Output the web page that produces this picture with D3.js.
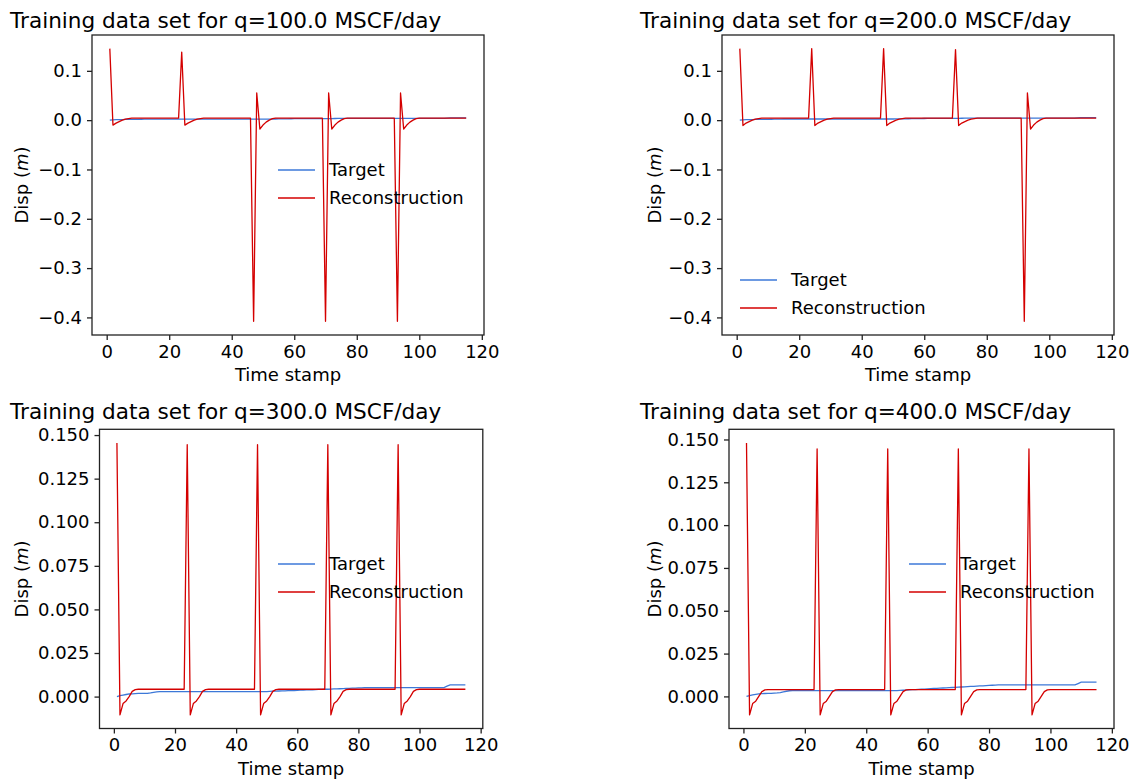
<!DOCTYPE html>
<html>
<head>
<meta charset="utf-8">
<script src="https://cdn.jsdelivr.net/npm/d3@7"></script>
<style>
  body { margin: 0; background: #fff; }
  svg, svg text { font-family: "DejaVu Sans", sans-serif; }
  .axis text { font-size: 18px; fill: #000; font-family: "DejaVu Sans", sans-serif; }
  .axis path, .axis line { stroke: #222; stroke-width: 1.3; }
  .title { font-size: 21.6px; }
  .label { font-size: 18px; }
  .legend text { font-size: 18px; }
</style>
</head>
<body>
<div id="chart"></div>
<script>
// tick labels
const xTicks = [0, 20, 40, 60, 80, 100, 120];
const yTicksTop = [-0.4, -0.3, -0.2, -0.1, 0.0, 0.1];
const yTicksBottom = [0.000, 0.025, 0.050, 0.075, 0.100, 0.125, 0.150];

const seriesNames = ["Target", "Reconstruction"];
const rates = ["100.0", "200.0", "300.0", "400.0"];

// q = 100
const target100 = [
  0.0000, 0.0005, 0.0010, 0.0010, 0.0012, 0.0014, 0.0015, 0.0015, 0.0016, 0.0017, 0.0018, 0.0020, 0.0020, 0.0020, 0.0020, 0.0020, 0.0020, 0.0020, 0.0020, 0.0020, 0.0020, 0.0020, 0.0020,
  0.0020, 0.0020, 0.0020, 0.0020, 0.0020, 0.0020, 0.0020, 0.0020, 0.0020, 0.0020, 0.0020, 0.0020, 0.0020, 0.0020, 0.0020, 0.0020, 0.0020, 0.0020, 0.0020, 0.0020, 0.0020, 0.0020, 0.0020,
  0.0020, 0.0020, 0.0020, 0.0020, 0.0020, 0.0021, 0.0022, 0.0023, 0.0024, 0.0025, 0.0026, 0.0027, 0.0028, 0.0029, 0.0030, 0.0030, 0.0030, 0.0030, 0.0030, 0.0030, 0.0030, 0.0030, 0.0030,
  0.0030, 0.0031, 0.0032, 0.0033, 0.0034, 0.0035, 0.0035, 0.0035, 0.0035, 0.0035, 0.0035, 0.0035, 0.0035, 0.0035, 0.0035, 0.0035, 0.0035, 0.0035, 0.0035, 0.0035, 0.0035, 0.0035, 0.0035,
  0.0035, 0.0035, 0.0035, 0.0035, 0.0035, 0.0035, 0.0035, 0.0035, 0.0035, 0.0035, 0.0035, 0.0035, 0.0035, 0.0035, 0.0035, 0.0035, 0.0040, 0.0045, 0.0045, 0.0045, 0.0045, 0.0045, 0.0045
];
const recon100 = [
  0.145, -0.010, -0.006, -0.003, 0.000, 0.002, 0.003, 0.004, 0.004, 0.004, 0.004, 0.004, 0.004, 0.004, 0.004, 0.004, 0.004, 0.004, 0.004, 0.004, 0.004, 0.004, 0.004,
  0.138, -0.010, -0.006, -0.003, 0.000, 0.002, 0.003, 0.004, 0.004, 0.004, 0.004, 0.004, 0.004, 0.004, 0.004, 0.004, 0.004, 0.004, 0.004, 0.004, 0.004, 0.004, 0.004,
  -0.408, 0.055, -0.018, -0.010, -0.004, 0.000, 0.003, 0.004, 0.004, 0.004, 0.004, 0.004, 0.004, 0.004, 0.004, 0.004, 0.004, 0.004, 0.004, 0.004, 0.004, 0.004, 0.004,
  -0.408, 0.055, -0.018, -0.010, -0.004, 0.000, 0.003, 0.004, 0.004, 0.004, 0.004, 0.004, 0.004, 0.004, 0.004, 0.004, 0.004, 0.004, 0.004, 0.004, 0.004, 0.004, 0.004,
  -0.408, 0.055, -0.018, -0.010, -0.004, 0.000, 0.003, 0.004, 0.004, 0.004, 0.004, 0.004, 0.004, 0.004, 0.004, 0.004, 0.004, 0.004, 0.004, 0.004, 0.004, 0.004, 0.004
];

// q = 200
const target200 = [
  0.0000, 0.0005, 0.0010, 0.0010, 0.0012, 0.0014, 0.0015, 0.0015, 0.0016, 0.0017, 0.0018, 0.0020, 0.0021, 0.0022, 0.0023, 0.0023, 0.0023, 0.0023, 0.0023, 0.0023, 0.0023, 0.0023, 0.0023,
  0.0023, 0.0023, 0.0023, 0.0023, 0.0023, 0.0023, 0.0023, 0.0023, 0.0023, 0.0023, 0.0023, 0.0023, 0.0023, 0.0023, 0.0023, 0.0023, 0.0023, 0.0023, 0.0023, 0.0023, 0.0023, 0.0023, 0.0023,
  0.0023, 0.0023, 0.0023, 0.0023, 0.0024, 0.0025, 0.0026, 0.0027, 0.0028, 0.0029, 0.0030, 0.0031, 0.0032, 0.0033, 0.0034, 0.0035, 0.0035, 0.0035, 0.0035, 0.0035, 0.0035, 0.0035, 0.0035,
  0.0036, 0.0037, 0.0038, 0.0039, 0.0040, 0.0040, 0.0040, 0.0040, 0.0040, 0.0040, 0.0040, 0.0040, 0.0040, 0.0040, 0.0040, 0.0040, 0.0040, 0.0040, 0.0040, 0.0040, 0.0040, 0.0040, 0.0040,
  0.0040, 0.0040, 0.0040, 0.0040, 0.0040, 0.0040, 0.0040, 0.0040, 0.0040, 0.0040, 0.0040, 0.0040, 0.0040, 0.0040, 0.0040, 0.0040, 0.0045, 0.0050, 0.0050, 0.0050, 0.0050, 0.0050, 0.0050
];
const recon200 = [
  0.145, -0.011, -0.006, -0.003, 0.000, 0.002, 0.003, 0.004, 0.004, 0.004, 0.004, 0.004, 0.004, 0.004, 0.004, 0.004, 0.004, 0.004, 0.004, 0.004, 0.004, 0.004, 0.004,
  0.145, -0.011, -0.006, -0.003, 0.000, 0.002, 0.003, 0.004, 0.004, 0.004, 0.004, 0.004, 0.004, 0.004, 0.004, 0.004, 0.004, 0.004, 0.004, 0.004, 0.004, 0.004, 0.004,
  0.145, -0.011, -0.006, -0.003, 0.000, 0.002, 0.003, 0.004, 0.004, 0.004, 0.004, 0.004, 0.004, 0.004, 0.004, 0.004, 0.004, 0.004, 0.004, 0.004, 0.004, 0.004, 0.004,
  0.143, -0.011, -0.006, -0.003, 0.000, 0.002, 0.003, 0.004, 0.004, 0.004, 0.004, 0.004, 0.004, 0.004, 0.004, 0.004, 0.004, 0.004, 0.004, 0.004, 0.004, 0.004, -0.408,
  0.055, -0.018, -0.010, -0.004, 0.000, 0.003, 0.004, 0.004, 0.004, 0.004, 0.004, 0.004, 0.004, 0.004, 0.004, 0.004, 0.004, 0.004, 0.004, 0.004, 0.004, 0.004, 0.004
];

// q = 300
const target300 = [
  0.0000, 0.0005, 0.0009, 0.0012, 0.0015, 0.0016, 0.0017, 0.0018, 0.0018, 0.0019, 0.0019, 0.0021, 0.0024, 0.0027, 0.0029, 0.0029, 0.0029, 0.0029, 0.0029, 0.0029, 0.0029, 0.0029, 0.0029,
  0.0029, 0.0029, 0.0029, 0.0029, 0.0029, 0.0029, 0.0029, 0.0029, 0.0029, 0.0029, 0.0029, 0.0029, 0.0029, 0.0029, 0.0029, 0.0029, 0.0029, 0.0029, 0.0029, 0.0029, 0.0029, 0.0029, 0.0029,
  0.0029, 0.0029, 0.0029, 0.0029, 0.0030, 0.0031, 0.0031, 0.0032, 0.0033, 0.0033, 0.0034, 0.0035, 0.0035, 0.0036, 0.0037, 0.0037, 0.0038, 0.0039, 0.0039, 0.0040, 0.0041, 0.0041, 0.0042,
  0.0042, 0.0043, 0.0044, 0.0044, 0.0045, 0.0046, 0.0047, 0.0047, 0.0048, 0.0049, 0.0050, 0.0050, 0.0051, 0.0052, 0.0052, 0.0052, 0.0052, 0.0052, 0.0052, 0.0052, 0.0052, 0.0052, 0.0052,
  0.0052, 0.0052, 0.0052, 0.0052, 0.0052, 0.0052, 0.0052, 0.0052, 0.0052, 0.0052, 0.0052, 0.0052, 0.0052, 0.0052, 0.0052, 0.0052, 0.0060, 0.0067, 0.0067, 0.0067, 0.0067, 0.0067, 0.0067
];
const recon300 = [
  0.1455, -0.0105, -0.0040, -0.0025, 0.0000, 0.0030, 0.0040, 0.0042, 0.0042, 0.0042, 0.0042, 0.0042, 0.0042, 0.0042, 0.0042, 0.0042, 0.0042, 0.0042, 0.0042, 0.0042, 0.0042, 0.0042, 0.0042,
  0.1445, -0.0105, -0.0040, -0.0025, 0.0000, 0.0030, 0.0040, 0.0042, 0.0042, 0.0042, 0.0042, 0.0042, 0.0042, 0.0042, 0.0042, 0.0042, 0.0042, 0.0042, 0.0042, 0.0042, 0.0042, 0.0042, 0.0042,
  0.1445, -0.0105, -0.0040, -0.0025, 0.0000, 0.0030, 0.0040, 0.0042, 0.0042, 0.0042, 0.0042, 0.0042, 0.0042, 0.0042, 0.0042, 0.0042, 0.0042, 0.0042, 0.0042, 0.0042, 0.0042, 0.0042, 0.0042,
  0.1445, -0.0105, -0.0040, -0.0025, 0.0000, 0.0030, 0.0040, 0.0042, 0.0042, 0.0042, 0.0042, 0.0042, 0.0042, 0.0042, 0.0042, 0.0042, 0.0042, 0.0042, 0.0042, 0.0042, 0.0042, 0.0042, 0.0042,
  0.1445, -0.0105, -0.0040, -0.0025, 0.0000, 0.0030, 0.0040, 0.0042, 0.0042, 0.0042, 0.0042, 0.0042, 0.0042, 0.0042, 0.0042, 0.0042, 0.0042, 0.0042, 0.0042, 0.0042, 0.0042, 0.0042, 0.0042
];

// q = 400
const target400 = [
  0.0000, 0.0005, 0.0009, 0.0012, 0.0015, 0.0016, 0.0017, 0.0018, 0.0018, 0.0019, 0.0020, 0.0022, 0.0026, 0.0030, 0.0033, 0.0034, 0.0034, 0.0034, 0.0034, 0.0034, 0.0034, 0.0034, 0.0034,
  0.0034, 0.0034, 0.0034, 0.0034, 0.0034, 0.0034, 0.0034, 0.0034, 0.0034, 0.0034, 0.0034, 0.0034, 0.0034, 0.0034, 0.0034, 0.0034, 0.0034, 0.0034, 0.0034, 0.0034, 0.0034, 0.0034, 0.0034,
  0.0034, 0.0034, 0.0034, 0.0034, 0.0035, 0.0036, 0.0037, 0.0038, 0.0039, 0.0040, 0.0041, 0.0042, 0.0043, 0.0044, 0.0045, 0.0046, 0.0047, 0.0048, 0.0049, 0.0050, 0.0051, 0.0052, 0.0053,
  0.0054, 0.0055, 0.0056, 0.0057, 0.0058, 0.0059, 0.0060, 0.0061, 0.0062, 0.0063, 0.0064, 0.0065, 0.0066, 0.0067, 0.0067, 0.0067, 0.0067, 0.0067, 0.0067, 0.0067, 0.0067, 0.0067, 0.0067,
  0.0067, 0.0067, 0.0067, 0.0067, 0.0067, 0.0067, 0.0067, 0.0067, 0.0067, 0.0067, 0.0067, 0.0067, 0.0067, 0.0067, 0.0067, 0.0067, 0.0075, 0.0083, 0.0083, 0.0083, 0.0083, 0.0083, 0.0083
];
const recon400 = [
  0.1480, -0.0108, -0.0042, -0.0028, 0.0000, 0.0028, 0.0038, 0.0040, 0.0040, 0.0040, 0.0040, 0.0040, 0.0040, 0.0040, 0.0040, 0.0040, 0.0040, 0.0040, 0.0040, 0.0040, 0.0040, 0.0040, 0.0040,
  0.1445, -0.0108, -0.0042, -0.0028, 0.0000, 0.0028, 0.0038, 0.0040, 0.0040, 0.0040, 0.0040, 0.0040, 0.0040, 0.0040, 0.0040, 0.0040, 0.0040, 0.0040, 0.0040, 0.0040, 0.0040, 0.0040, 0.0040,
  0.1445, -0.0108, -0.0042, -0.0028, 0.0000, 0.0028, 0.0038, 0.0040, 0.0040, 0.0040, 0.0040, 0.0040, 0.0040, 0.0040, 0.0040, 0.0040, 0.0040, 0.0040, 0.0040, 0.0040, 0.0040, 0.0040, 0.0040,
  0.1445, -0.0108, -0.0042, -0.0028, 0.0000, 0.0028, 0.0038, 0.0040, 0.0040, 0.0040, 0.0040, 0.0040, 0.0040, 0.0040, 0.0040, 0.0040, 0.0040, 0.0040, 0.0040, 0.0040, 0.0040, 0.0040, 0.0040,
  0.1445, -0.0108, -0.0042, -0.0028, 0.0000, 0.0028, 0.0038, 0.0040, 0.0040, 0.0040, 0.0040, 0.0040, 0.0040, 0.0040, 0.0040, 0.0040, 0.0040, 0.0040, 0.0040, 0.0040, 0.0040, 0.0040, 0.0040
];

const colors = { target: "#3c78d8", recon: "#d40000" };

const svg = d3.select("#chart").append("svg")
    .attr("width", 1131)
    .attr("height", 781);

// one panel per flow rate
const panels = [
  { rate: rates[0], target: target100, recon: recon100, yTicks: yTicksTop, fmt: ".1f",
    box: { left: 92, top: 35, width: 392, height: 300 }, titleX: 10, titleY: 28, ylabelX: 22,
    legend: { x: 278, y: 170 } },
  { rate: rates[1], target: target200, recon: recon200, yTicks: yTicksTop, fmt: ".1f",
    box: { left: 722, top: 35, width: 392, height: 300 }, titleX: 640, titleY: 28, ylabelX: 655,
    legend: { x: 740, y: 280 } },
  { rate: rates[2], target: target300, recon: recon300, yTicks: yTicksBottom, fmt: ".3f",
    box: { left: 99.5, top: 429.3, width: 383.3, height: 299.2 }, titleX: 10, titleY: 419, ylabelX: 22,
    legend: { x: 278, y: 564 } },
  { rate: rates[3], target: target400, recon: recon400, yTicks: yTicksBottom, fmt: ".3f",
    box: { left: 729, top: 429.3, width: 385, height: 299.2 }, titleX: 640, titleY: 419, ylabelX: 655,
    legend: { x: 909, y: 564 } }
];

panels.forEach(p => drawPanel(p));

function drawPanel(p) {
  const b = p.box;
  const g = svg.append("g")
      .attr("transform", "translate(" + b.left + "," + b.top + ")");

  // time stamps start at 1
  const xs = p.recon.map((d, i) => i + 1);

  // autoscale like matplotlib: data extent plus 5% on each side
  const xExt = d3.extent(xs);
  const xPad = (xExt[1] - xExt[0]) * 0.05;
  const xScale = d3.scaleLinear()
      .domain([xExt[0] - xPad, xExt[1] + xPad])
      .range([0, b.width]);

  const yExt = d3.extent(p.target.concat(p.recon));
  const yPad = (yExt[1] - yExt[0]) * 0.05;
  const yScale = d3.scaleLinear()
      .domain([yExt[0] - yPad, yExt[1] + yPad])
      .range([b.height, 0]);

  const line = d3.line()
      .x((d, i) => xScale(xs[i]))
      .y(d => yScale(d));

  g.append("path")
      .datum(p.target)
      .attr("fill", "none")
      .attr("stroke", colors.target)
      .attr("stroke-width", 1.3)
      .attr("d", line);

  g.append("path")
      .datum(p.recon)
      .attr("fill", "none")
      .attr("stroke", colors.recon)
      .attr("stroke-width", 1.3)
      .attr("stroke-linejoin", "round")
      .attr("d", line);

  // axes
  g.append("g")
      .attr("class", "axis")
      .attr("transform", "translate(0," + b.height + ")")
      .call(d3.axisBottom(xScale).tickValues(xTicks).tickSize(5).tickPadding(5).tickSizeOuter(0))
      .call(a => a.attr("font-family", null).attr("font-size", null))
      .call(a => a.select(".domain").remove());

  g.append("g")
      .attr("class", "axis")
      .call(d3.axisLeft(yScale).tickValues(p.yTicks).tickSize(5).tickPadding(5)
        .tickFormat(d3.format(p.fmt)))
      .call(a => a.attr("font-family", null).attr("font-size", null))
      .call(a => a.select(".domain").remove());

  // frame
  g.append("rect")
      .attr("width", b.width)
      .attr("height", b.height)
      .attr("fill", "none")
      .attr("stroke", "#222")
      .attr("stroke-width", 1.3);

  // title
  svg.append("text")
      .attr("class", "title")
      .attr("x", p.titleX)
      .attr("y", p.titleY)
      .text("Training data set for q=" + p.rate + " MSCF/day");

  // axis labels
  svg.append("text")
      .attr("class", "label")
      .attr("x", b.left + b.width / 2)
      .attr("y", b.top + b.height + 46)
      .attr("text-anchor", "middle")
      .text("Time stamp");

  const yl = svg.append("text")
      .attr("class", "label")
      .attr("text-anchor", "middle")
      .attr("transform", "translate(" + (p.ylabelX + 6) + "," + (b.top + b.height / 2) + ") rotate(-90)");
  yl.append("tspan").text("Disp (");
  yl.append("tspan").attr("font-style", "italic").text("m");
  yl.append("tspan").text(")");

  // legend, no frame
  const lg = svg.append("g")
      .attr("class", "legend")
      .attr("transform", "translate(" + p.legend.x + "," + p.legend.y + ")");

  [colors.target, colors.recon].forEach((c, i) => {
    lg.append("line")
        .attr("x1", 0).attr("x2", 37)
        .attr("y1", i * 28).attr("y2", i * 28)
        .attr("stroke", c)
        .attr("stroke-width", 1.3);
    lg.append("text")
        .attr("x", 51)
        .attr("y", i * 28)
        .attr("dy", "0.35em")
        .text(seriesNames[i]);
  });
}
</script>
</body>
</html>
